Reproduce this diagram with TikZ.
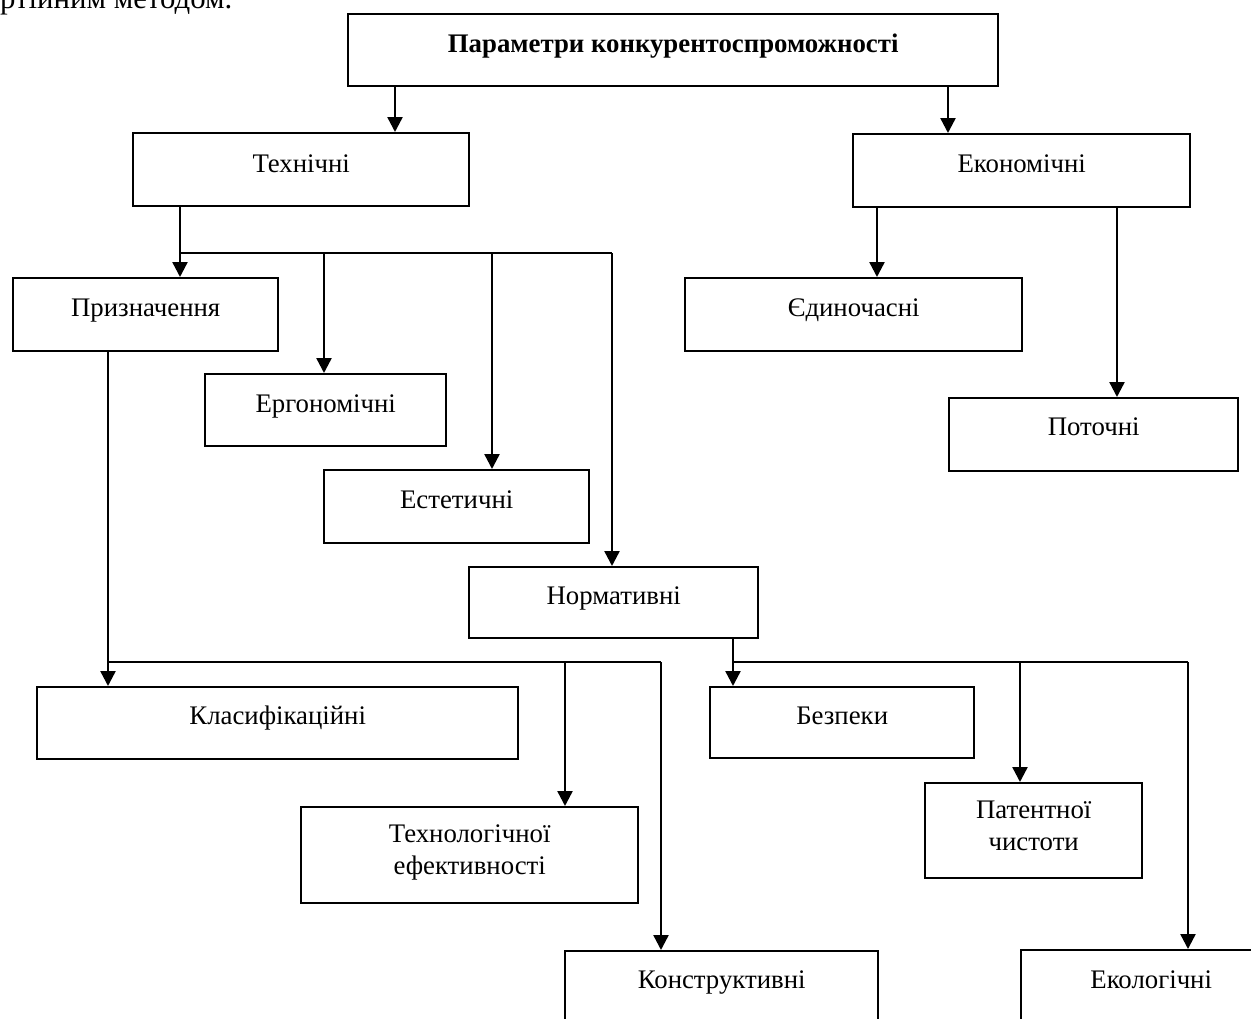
\documentclass[tikz,border=0pt]{standalone}
\usepackage{fontspec}
\setmainfont{Liberation Serif}
\usetikzlibrary{arrows.meta,calc}

\tikzset{
  ln/.style={line width=2.4pt},
  arr/.style={line width=2.4pt, -{Triangle[length=15pt,width=15pt]}},
  box/.style={draw, line width=2.4pt, rectangle, inner sep=0pt, anchor=north west,
    align=center, text depth=#1},
  box/.default=34pt,
}

\begin{document}
\begin{tikzpicture}[x=1pt,y=-1pt,font=\fontsize{26.8}{32}\selectfont]
\useasboundingbox (0,0) rectangle (1251,1018);
\fill[white] (0,0) rectangle (1251,1018);
\clip (0,0) rectangle (1251,1018);

% tail of the preceding paragraph
\node[anchor=base west, inner sep=0pt, font=\fontsize{30.8}{36}\selectfont] (prev) at (0,8) {ртійним методом.};

% boxes
\node[box=34pt, text height=38pt, minimum width=650pt] (root) at (347,13) {\textbf{Параметри конкурентоспроможності}};
\node[box=34pt, text height=39pt, minimum width=336pt] (tech) at (132,132) {Технічні};
\node[box=35pt, text height=38pt, minimum width=337pt] (econ) at (852,133) {Економічні};

\node[box=35pt, text height=38pt, minimum width=265pt] (prizn) at (12,277) {Призначення};
\node[box=34pt, text height=38pt, minimum width=241pt] (ergo) at (204,373) {Ергономічні};
\node[box=35pt, text height=38pt, minimum width=265pt] (est) at (323,469) {Естетичні};
\node[box=34pt, text height=37pt, minimum width=289pt] (norm) at (468,566) {Нормативні};

\node[box=35pt, text height=38pt, minimum width=337pt] (edyn) at (684,277) {Єдиночасні};
\node[box=36pt, text height=37pt, minimum width=289pt] (potoch) at (948,397) {Поточні};

\node[box=35pt, text height=37pt, minimum width=481pt] (klas) at (36,686) {Класифікаційні};
\node[box=29pt, text height=67pt, minimum width=337pt] (tekhn) at (300,806) {Технологічної\\ефективності};
\node[box=53pt, text height=37pt, minimum width=313pt] (konst) at (564,950) {Конструктивні};

\node[box=34pt, text height=37pt, minimum width=264pt] (bezp) at (709,686) {Безпеки};
\node[box=28pt, text height=67pt, minimum width=217pt] (pat) at (924,782) {Патентної\\чистоти};
\node[box=54pt, text height=38pt, minimum width=260pt] (ekol) at (1020,949) {Екологічні};

% junction points of the branching lines
\coordinate (rl) at (395,0);
\coordinate (rr) at (948,0);
\coordinate (tb) at (180,253);
\coordinate (tb2) at (324,253);
\coordinate (tb3) at (492,253);
\coordinate (tb4) at (612,253);
\coordinate (el) at (877,0);
\coordinate (er) at (1117,0);
\coordinate (pb) at (108,662);
\coordinate (pb2) at (565,662);
\coordinate (pb3) at (661,662);
\coordinate (nb) at (733,662);
\coordinate (nb2) at (1020,662);
\coordinate (nb3) at (1188,662);

% first level
\draw[arr] (root.south -| rl) -- (tech.north -| rl);
\draw[arr] (root.south -| rr) -- (econ.north -| rr);

% technical group
\draw[arr] (tech.south -| tb) -- (prizn.north -| tb);
\draw[ln] (tb) -- (tb4);
\draw[arr] (tb2) -- (ergo.north -| tb2);
\draw[arr] (tb3) -- (est.north -| tb3);
\draw[arr] (tb4) -- (norm.north -| tb4);

% economic group
\draw[arr] (econ.south -| el) -- (edyn.north -| el);
\draw[arr] (econ.south -| er) -- (potoch.north -| er);

% purpose group
\draw[arr] (prizn.south -| pb) -- (klas.north -| pb);
\draw[ln] (pb) -- (pb3);
\draw[arr] (pb2) -- (tekhn.north -| pb2);
\draw[arr] (pb3) -- (konst.north -| pb3);

% normative group
\draw[arr] (norm.south -| nb) -- (bezp.north -| nb);
\draw[ln] (nb) -- (nb3);
\draw[arr] (nb2) -- (pat.north -| nb2);
\draw[arr] (nb3) -- (ekol.north -| nb3);
\end{tikzpicture}
\end{document}
